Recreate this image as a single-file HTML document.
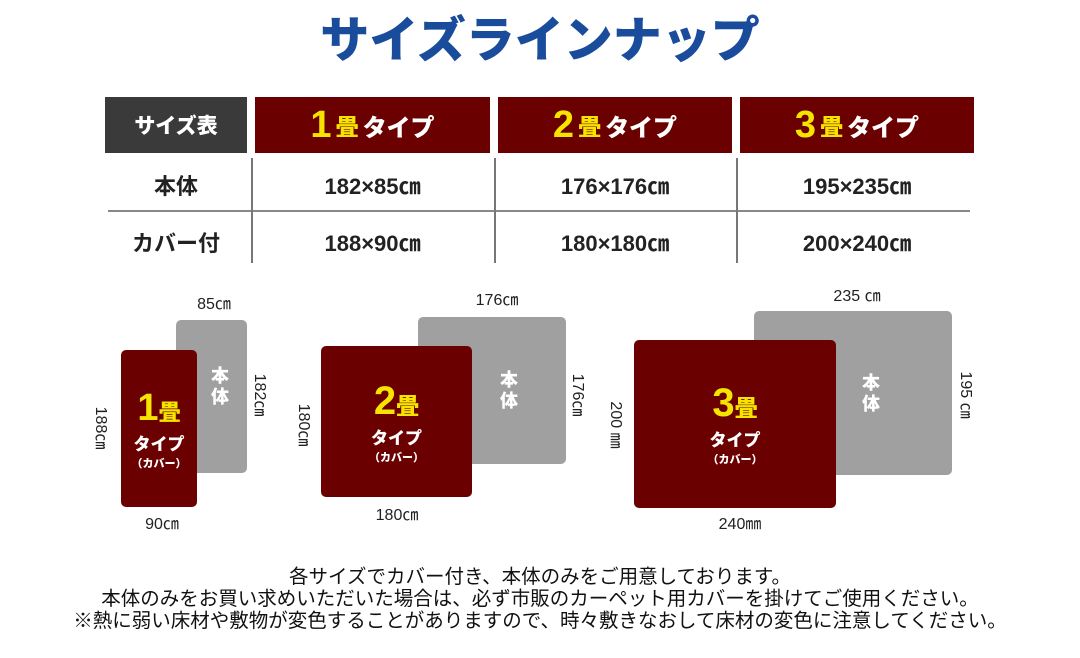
<!DOCTYPE html>
<html><head><meta charset="utf-8"><style>
*{margin:0;padding:0;box-sizing:border-box}
body{width:1080px;height:658px;background:#fff;position:relative;overflow:hidden;font-family:"Liberation Sans","Noto Sans CJK JP",sans-serif;color:#222}
.a{position:absolute}
.c{display:flex;align-items:center;justify-content:center;white-space:nowrap}
.title{left:0;width:1080px;top:4px;height:64px;font-size:49px;font-weight:900;color:#1a4c9c}
.hd{top:97px;height:56px;font-weight:900;color:#fff;font-size:24px}
.red{background:#6b0000}
.y{color:#f5e400}
.cell{height:40px;font-size:22px;font-weight:700;color:#222}
.gray{background:#a0a0a0;border-radius:5px}
.box{background:#6b0000;border-radius:5px;flex-direction:column;color:#fff;font-weight:900}
.lbl{font-size:16px;color:#222}
.rot{transform:rotate(90deg);font-size:16px}
.note{left:0;width:1080px;font-size:19.5px;text-align:center;color:#111;white-space:nowrap}
</style></head><body>
<div class="a c title">サイズラインナップ</div>

<div class="a c hd" style="left:105px;width:142px;background:#3a3a3a;font-size:21px">サイズ表</div>
<div class="a c hd red" style="left:255px;width:235px"><span class="y" style="font-size:38px">1</span><span class="y" style="font-size:23px;margin:0 4px">畳</span>タイプ</div>
<div class="a c hd red" style="left:498px;width:234px"><span class="y" style="font-size:38px">2</span><span class="y" style="font-size:23px;margin:0 4px">畳</span>タイプ</div>
<div class="a c hd red" style="left:740px;width:234px"><span class="y" style="font-size:38px">3</span><span class="y" style="font-size:23px;margin:0 4px">畳</span>タイプ</div>

<div class="a" style="left:108px;top:210px;width:862px;height:2px;background:#888"></div>
<div class="a" style="left:251px;top:158px;width:2px;height:105px;background:#777"></div>
<div class="a" style="left:494px;top:158px;width:2px;height:105px;background:#777"></div>
<div class="a" style="left:736px;top:158px;width:2px;height:105px;background:#777"></div>

<div class="a c cell" style="left:105px;width:142px;top:165px">本体</div>
<div class="a c cell" style="left:255px;width:235px;top:165px">182×85㎝</div>
<div class="a c cell" style="left:498px;width:234px;top:165px">176×176㎝</div>
<div class="a c cell" style="left:740px;width:234px;top:165px">195×235㎝</div>
<div class="a c cell" style="left:105px;width:142px;top:222px">カバー付</div>
<div class="a c cell" style="left:255px;width:235px;top:222px">188×90㎝</div>
<div class="a c cell" style="left:498px;width:234px;top:222px">180×180㎝</div>
<div class="a c cell" style="left:740px;width:234px;top:222px">200×240㎝</div>

<!-- 1 -->
<div class="a gray" style="left:176px;top:320px;width:71px;height:153px"></div>
<div class="a" style="left:211px;top:366px;color:#fff;font-weight:900;font-size:18px;line-height:21px;width:20px">本<br>体</div>
<div class="a c box" style="left:121px;top:350px;width:76px;height:157px"><div><span class="y" style="font-size:38px">1</span><span class="y" style="font-size:22px">畳</span></div><div style="font-size:17px">タイプ</div><div style="font-size:11px">（カバー）</div></div>
<div class="a c lbl" style="left:184px;top:293px;width:60px;height:18px">85㎝</div>
<div class="a c lbl" style="left:132px;top:513px;width:60px;height:18px">90㎝</div>
<div class="a c rot" style="left:232px;top:386px;width:60px;height:18px">182㎝</div>
<div class="a c rot" style="left:73px;top:419px;width:60px;height:18px">188㎝</div>

<!-- 2 -->
<div class="a gray" style="left:418px;top:317px;width:148px;height:147px"></div>
<div class="a" style="left:500px;top:370px;color:#fff;font-weight:900;font-size:18px;line-height:21px;width:20px">本<br>体</div>
<div class="a c box" style="left:321px;top:346px;width:151px;height:151px"><div><span class="y" style="font-size:40px">2</span><span class="y" style="font-size:23px">畳</span></div><div style="font-size:17px">タイプ</div><div style="font-size:11px">（カバー）</div></div>
<div class="a c lbl" style="left:462px;top:289px;width:70px;height:18px">176㎝</div>
<div class="a c lbl" style="left:362px;top:504px;width:70px;height:18px">180㎝</div>
<div class="a c rot" style="left:550px;top:386px;width:60px;height:18px">176㎝</div>
<div class="a c rot" style="left:276px;top:416px;width:60px;height:18px">180㎝</div>

<!-- 3 -->
<div class="a gray" style="left:754px;top:311px;width:198px;height:164px"></div>
<div class="a" style="left:862px;top:373px;color:#fff;font-weight:900;font-size:18px;line-height:21px;width:20px">本<br>体</div>
<div class="a c box" style="left:634px;top:340px;width:202px;height:168px"><div><span class="y" style="font-size:40px">3</span><span class="y" style="font-size:23px">畳</span></div><div style="font-size:17px">タイプ</div><div style="font-size:11px">（カバー）</div></div>
<div class="a c lbl" style="left:817px;top:285px;width:80px;height:18px">235 ㎝</div>
<div class="a c lbl" style="left:700px;top:513px;width:80px;height:18px">240㎜</div>
<div class="a c rot" style="left:933px;top:386px;width:70px;height:18px">195 ㎝</div>
<div class="a c rot" style="left:583px;top:416px;width:70px;height:18px">200 ㎜</div>

<div class="a note" style="top:560px">各サイズでカバー付き、本体のみをご用意しております。</div>
<div class="a note" style="top:582px">本体のみをお買い求めいただいた場合は、必ず市販のカーペット用カバーを掛けてご使用ください。</div>
<div class="a note" style="top:604px">※熱に弱い床材や敷物が変色することがありますので、時々敷きなおして床材の変色に注意してください。</div>
</body></html>
